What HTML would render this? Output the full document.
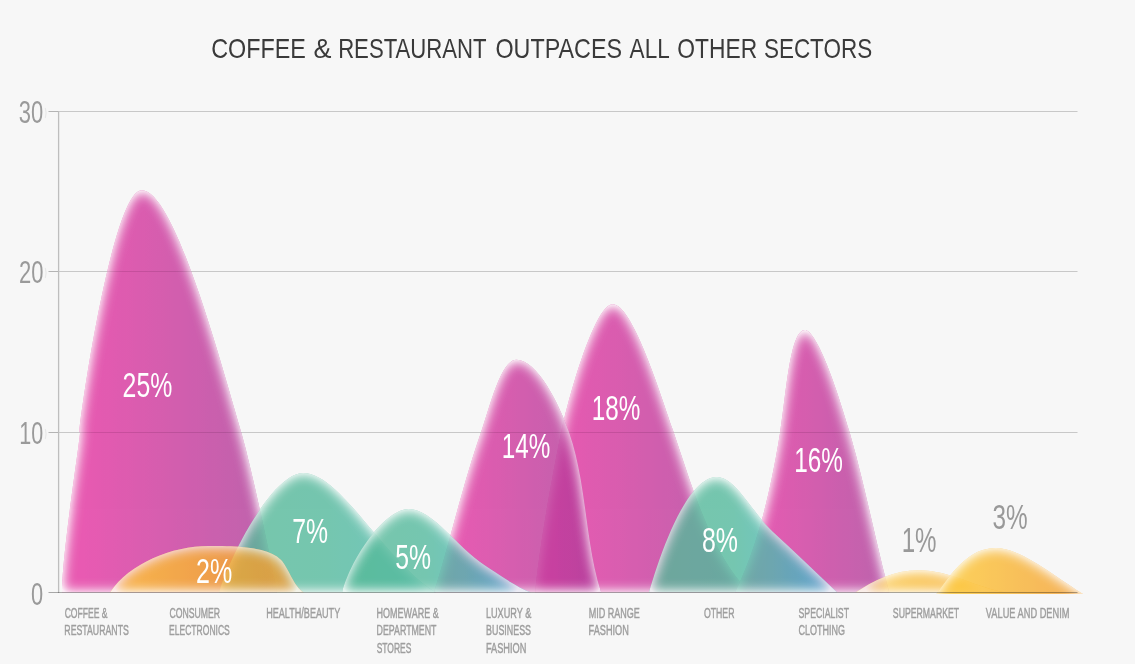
<!DOCTYPE html>
<html><head><meta charset="utf-8"><title>Coffee &amp; Restaurant outpaces all other sectors</title>
<style>
html,body{margin:0;padding:0;background:#f7f7f7;}
body{width:1135px;height:664px;overflow:hidden;}
svg{display:block;font-family:"Liberation Sans",sans-serif;}
.t{font-size:27.8px;fill:#3a3a3a;}
.yl{font-size:31px;fill:#9a9a9a;}
.xl{font-size:14px;fill:#9e9e9e;stroke:#9e9e9e;stroke-width:0.45px;}
.n{font-size:34.5px;}
</style></head><body>
<svg width="1135" height="664" viewBox="0 0 1135 664">
<defs>
<filter id="ig" filterUnits="userSpaceOnUse" x="0" y="150" width="1135" height="460" color-interpolation-filters="sRGB">
<feComponentTransfer in="SourceAlpha" result="inv"><feFuncA type="table" tableValues="1 0"/></feComponentTransfer>
<feGaussianBlur in="inv" stdDeviation="6.2" result="b"/>
<feComponentTransfer in="b" result="b2"><feFuncA type="linear" slope="1.55" intercept="0"/></feComponentTransfer>
<feComposite in="b2" in2="SourceAlpha" operator="in" result="gm"/>
<feFlood flood-color="#ffffff" flood-opacity="0.9" result="fl"/>
<feComposite in="fl" in2="gm" operator="in" result="glow"/>
<feMerge><feMergeNode in="SourceGraphic"/><feMergeNode in="glow"/></feMerge>
</filter>
<linearGradient id="g_b25" gradientUnits="userSpaceOnUse" x1="62" y1="0" x2="278" y2="0"><stop offset="0.1" stop-color="#e433a0"/><stop offset="0.85" stop-color="#b63c9a"/><stop offset="1" stop-color="#af3a9c"/></linearGradient>
<linearGradient id="g_b2" gradientUnits="userSpaceOnUse" x1="110" y1="0" x2="304" y2="0"><stop offset="0.15" stop-color="#fdc533"/><stop offset="0.9" stop-color="#f39930"/></linearGradient>
<linearGradient id="g_b7" gradientUnits="userSpaceOnUse" x1="219" y1="0" x2="436" y2="0"><stop offset="0.1" stop-color="#56b998"/><stop offset="0.5" stop-color="#54b99d"/><stop offset="0.85" stop-color="#50baac"/><stop offset="1" stop-color="#4cb7b5"/></linearGradient>
<linearGradient id="g_b5" gradientUnits="userSpaceOnUse" x1="342" y1="0" x2="530" y2="0"><stop offset="0.05" stop-color="#56b998"/><stop offset="0.45" stop-color="#54ba9e"/><stop offset="0.65" stop-color="#50b9b0"/><stop offset="0.9" stop-color="#44b5cf"/></linearGradient>
<linearGradient id="g_b14" gradientUnits="userSpaceOnUse" x1="434" y1="0" x2="601" y2="0"><stop offset="0.1" stop-color="#e433a0"/><stop offset="0.85" stop-color="#b63c9a"/><stop offset="1" stop-color="#af3a9c"/></linearGradient>
<linearGradient id="g_b18" gradientUnits="userSpaceOnUse" x1="535" y1="0" x2="748" y2="0"><stop offset="0.1" stop-color="#e433a0"/><stop offset="0.85" stop-color="#b63c9a"/><stop offset="1" stop-color="#af3a9c"/></linearGradient>
<linearGradient id="g_b8" gradientUnits="userSpaceOnUse" x1="649" y1="0" x2="838" y2="0"><stop offset="0.05" stop-color="#56b998"/><stop offset="0.45" stop-color="#54ba9e"/><stop offset="0.65" stop-color="#50b9b0"/><stop offset="0.9" stop-color="#44b5cf"/></linearGradient>
<linearGradient id="g_b16" gradientUnits="userSpaceOnUse" x1="734" y1="0" x2="890" y2="0"><stop offset="0.1" stop-color="#e433a0"/><stop offset="0.85" stop-color="#b63c9a"/><stop offset="1" stop-color="#af3a9c"/></linearGradient>
<linearGradient id="g_b1" gradientUnits="userSpaceOnUse" x1="855" y1="0" x2="1006" y2="0"><stop offset="0.1" stop-color="#fdc63d"/><stop offset="0.9" stop-color="#f7ad33"/></linearGradient>
<linearGradient id="g_b3" gradientUnits="userSpaceOnUse" x1="937" y1="0" x2="1085" y2="0"><stop offset="0.15" stop-color="#fdc533"/><stop offset="0.9" stop-color="#f5a333"/></linearGradient>
<clipPath id="cb"><rect x="0" y="0" width="1135" height="592.6"/></clipPath>
<clipPath id="cb3"><rect x="0" y="0" width="1135" height="594"/></clipPath>
</defs>
<rect width="1135" height="664" fill="#f7f7f7"/>
<g stroke="#000" stroke-opacity="0.27" stroke-width="1" fill="none">
<path d="M58.6,111 V593" stroke-width="1.3" stroke-opacity="0.23"/>
<path d="M48.5,111.5 H58"/>
<path d="M48.5,271.5 H58"/>
<path d="M48.5,432.5 H58"/>
</g>
<g stroke="#000" stroke-opacity="0.06" stroke-width="1.2" fill="none">
<path d="M45.3,108 q1.6,5 0,10"/>
<path d="M45.3,268 q1.6,5 0,10"/>
<path d="M45.3,429 q1.6,5 0,10"/>
</g>
<g stroke="#d9d9d9" stroke-width="1" fill="none">
<path d="M59,111.5 H1077.5"/>
<path d="M59,271.5 H1077.5"/>
<path d="M59,432.5 H1077.5"/>
</g>
<g clip-path="url(#cb)">
<g opacity="0.8"><path d="M62.0,592.6 C62.3,548.2 83.0,422.1 79.7,432.2 C76.2,442.9 111.0,190.2 141.8,190.2 C174.3,190.2 220.4,360.5 241.2,432.2 C251.4,467.4 267.8,544.3 277.0,592.6Z" fill="url(#g_b25)" filter="url(#ig)"/></g>
<g opacity="0.8"><path d="M535.2,592.6 C540.2,535.4 559.5,439.9 561.2,432.2 C571.7,384.5 596.2,304.2 612.6,304.2 C631.8,304.2 658.0,386.4 672.9,430.0 C692.4,487.3 711.3,555.2 750.0,592.6Z" fill="url(#g_b18)" filter="url(#ig)"/></g>
<g opacity="0.8"><path d="M434.0,592.6 C449.4,544.0 463.2,482.5 481.0,432.2 C490.1,406.7 500.7,359.8 516.5,359.8 C536.9,359.8 558.9,403.3 569.1,432.2 C586.8,482.5 585.1,543.3 601.2,592.6Z" fill="url(#g_b14)" filter="url(#ig)"/></g>
<g opacity="0.8"><path d="M735.0,592.6 C758.2,546.0 771.1,488.7 780.1,432.6 C786.0,396.2 789.7,329.9 804.9,329.9 C812.2,329.9 827.4,355.5 849.7,432.6 C864.4,483.3 874.5,536.8 889.2,592.6Z" fill="url(#g_b16)" filter="url(#ig)"/></g>
<g opacity="0.8"><path d="M219.0,592.6 C233.0,548.3 274.5,473.1 303.2,473.1 C340.8,473.1 384.9,561.7 436.0,592.6Z" fill="url(#g_b7)" filter="url(#ig)"/></g>
<g opacity="0.8"><path d="M342.0,592.6 C352.1,554.8 385.8,509.0 408.8,509.0 C432.4,509.0 457.0,547.2 485.0,565.5 C498.2,574.1 514.0,585.6 531.0,592.6Z" fill="url(#g_b5)" filter="url(#ig)"/></g>
<g opacity="0.8"><path d="M649.0,592.6 C661.7,548.9 687.5,476.9 717.0,476.9 C735.8,476.9 752.7,513.7 773.0,532.0 C795.6,552.4 815.4,571.9 837.2,592.6Z" fill="url(#g_b8)" filter="url(#ig)"/></g>
<g opacity="0.8"><path d="M110.0,592.6 C129.6,563.1 172.2,546.0 208.5,546.0 C231.0,546.0 267.1,545.9 280.8,559.7 C288.7,567.7 293.5,586.6 304.0,592.6Z" fill="url(#g_b2)" filter="url(#ig)"/></g>
<g opacity="0.8"><path d="M855.5,592.6 C873.4,580.6 893.8,570.3 918.6,570.3 C950.7,570.3 976.0,587.8 1006.0,592.6Z" fill="url(#g_b1)" filter="url(#ig)"/></g>
</g>
<g clip-path="url(#cb3)">
<g opacity="0.8"><path d="M922.7,612.0 C943.6,587.6 961.5,548.0 995.5,548.0 C1031.0,548.0 1078.8,601.2 1121.0,612.0Z" fill="url(#g_b3)" filter="url(#ig)"/></g>
</g>
<g stroke="#000" stroke-opacity="0.075" stroke-width="1" fill="none">
<path d="M59,111.5 H1077.5"/>
<path d="M59,271.5 H1077.5"/>
<path d="M59,432.5 H1077.5"/>
</g>
<path d="M48.5,592.5 H1077.5" stroke="#000" stroke-opacity="0.32" stroke-width="1.2" fill="none"/>
<text class="t"><tspan x="211.28" y="58.20" textLength="94.64" lengthAdjust="spacingAndGlyphs">COFFEE</tspan> <tspan x="313.38" y="58.20" textLength="17.97" lengthAdjust="spacingAndGlyphs">&amp;</tspan> <tspan x="338.14" y="58.20" textLength="148.06" lengthAdjust="spacingAndGlyphs">RESTAURANT</tspan> <tspan x="495.44" y="58.20" textLength="126.61" lengthAdjust="spacingAndGlyphs">OUTPACES</tspan> <tspan x="629.60" y="58.20" textLength="39.27" lengthAdjust="spacingAndGlyphs">ALL</tspan> <tspan x="677.31" y="58.20" textLength="79.80" lengthAdjust="spacingAndGlyphs">OTHER</tspan> <tspan x="763.92" y="58.20" textLength="108.22" lengthAdjust="spacingAndGlyphs">SECTORS</tspan></text>
<text class="yl" x="18.78" y="123.10" textLength="24.45" lengthAdjust="spacingAndGlyphs">30</text>
<text class="yl" x="18.93" y="283.10" textLength="24.44" lengthAdjust="spacingAndGlyphs">20</text>
<text class="yl" x="19.29" y="444.00" textLength="23.96" lengthAdjust="spacingAndGlyphs">10</text>
<text class="yl" x="30.97" y="605.00" textLength="12.15" lengthAdjust="spacingAndGlyphs">0</text>
<text class="xl"><tspan x="64.64" y="618.30" textLength="42.94" lengthAdjust="spacingAndGlyphs">COFFEE &amp;</tspan> <tspan x="64.35" y="635.40" textLength="64.50" lengthAdjust="spacingAndGlyphs">RESTAURANTS</tspan></text>
<text class="xl"><tspan x="169.42" y="618.30" textLength="50.67" lengthAdjust="spacingAndGlyphs">CONSUMER</tspan> <tspan x="169.02" y="635.40" textLength="60.80" lengthAdjust="spacingAndGlyphs">ELECTRONICS</tspan></text>
<text class="xl" x="266.13" y="618.30" textLength="74.07" lengthAdjust="spacingAndGlyphs">HEALTH/BEAUTY</text>
<text class="xl"><tspan x="376.62" y="618.30" textLength="62.01" lengthAdjust="spacingAndGlyphs">HOMEWARE &amp;</tspan> <tspan x="376.61" y="635.40" textLength="59.69" lengthAdjust="spacingAndGlyphs">DEPARTMENT</tspan> <tspan x="376.74" y="653.20" textLength="34.57" lengthAdjust="spacingAndGlyphs">STORES</tspan></text>
<text class="xl"><tspan x="485.90" y="618.30" textLength="45.38" lengthAdjust="spacingAndGlyphs">LUXURY &amp;</tspan> <tspan x="486.12" y="635.40" textLength="44.91" lengthAdjust="spacingAndGlyphs">BUSINESS</tspan> <tspan x="485.99" y="653.20" textLength="40.37" lengthAdjust="spacingAndGlyphs">FASHION</tspan></text>
<text class="xl"><tspan x="588.74" y="618.30" textLength="51.14" lengthAdjust="spacingAndGlyphs">MID RANGE</tspan> <tspan x="588.56" y="635.40" textLength="40.27" lengthAdjust="spacingAndGlyphs">FASHION</tspan></text>
<text class="xl" x="703.96" y="618.30" textLength="30.46" lengthAdjust="spacingAndGlyphs">OTHER</text>
<text class="xl"><tspan x="798.47" y="618.30" textLength="50.40" lengthAdjust="spacingAndGlyphs">SPECIALIST</tspan> <tspan x="798.58" y="635.40" textLength="46.39" lengthAdjust="spacingAndGlyphs">CLOTHING</tspan></text>
<text class="xl" x="892.84" y="618.30" textLength="66.35" lengthAdjust="spacingAndGlyphs">SUPERMARKET</text>
<text class="xl" x="985.87" y="618.30" textLength="83.59" lengthAdjust="spacingAndGlyphs">VALUE AND DENIM</text>
<text class="n" fill="#fff" x="122.62" y="397.20" textLength="49.69" lengthAdjust="spacingAndGlyphs">25%</text>
<text class="n" fill="#fff" x="195.98" y="582.60" textLength="36.17" lengthAdjust="spacingAndGlyphs">2%</text>
<text class="n" fill="#fff" x="292.13" y="543.00" textLength="35.80" lengthAdjust="spacingAndGlyphs">7%</text>
<text class="n" fill="#fff" x="395.15" y="569.00" textLength="35.81" lengthAdjust="spacingAndGlyphs">5%</text>
<text class="n" fill="#fff" x="501.71" y="458.30" textLength="48.54" lengthAdjust="spacingAndGlyphs">14%</text>
<text class="n" fill="#fff" x="591.71" y="419.60" textLength="48.54" lengthAdjust="spacingAndGlyphs">18%</text>
<text class="n" fill="#fff" x="701.94" y="552.30" textLength="36.06" lengthAdjust="spacingAndGlyphs">8%</text>
<text class="n" fill="#fff" x="794.14" y="471.90" textLength="48.67" lengthAdjust="spacingAndGlyphs">16%</text>
<text class="n" fill="#999" x="901.69" y="552.00" textLength="34.89" lengthAdjust="spacingAndGlyphs">1%</text>
<text class="n" fill="#999" x="992.56" y="528.90" textLength="35.17" lengthAdjust="spacingAndGlyphs">3%</text>
</svg>
</body></html>
